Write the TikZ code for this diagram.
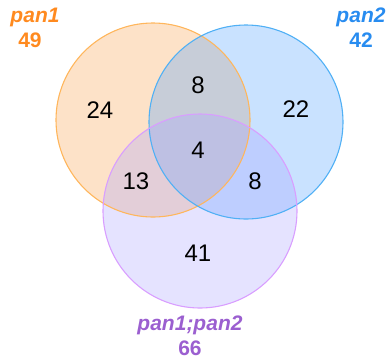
\documentclass[tikz,border=0pt]{standalone}
\usepackage{fontspec}
\setmainfont{Liberation Sans}
\definecolor{orA}{RGB}{248,158,72}
\definecolor{orE}{RGB}{255,182,92}
\definecolor{orT}{RGB}{255,138,31}
\definecolor{blA}{RGB}{75,158,255}
\definecolor{blE}{RGB}{80,176,245}
\definecolor{blT}{RGB}{40,140,240}
\definecolor{puA}{RGB}{168,162,255}
\definecolor{puE}{RGB}{217,158,255}
\definecolor{puT}{RGB}{155,95,208}
\tikzset{
  setfill/.style={fill=#1, fill opacity=0.3},
  setedge/.style={draw=#1, line width=1.1pt},
  count/.style={font=\fontsize{24}{24}\selectfont, text=black, inner sep=0pt},
  setname/.style={font=\fontsize{21}{21}\selectfont\bfseries\itshape, text=#1, inner sep=0pt},
  setsize/.style={font=\fontsize{21}{21}\selectfont\bfseries, text=#1, inner sep=0pt}
}
\begin{document}
\begin{tikzpicture}[x=1pt, y=-1pt]
  \useasboundingbox (0,0) rectangle (391,360);
  % set circles
  \coordinate (cA) at (153,120);
  \coordinate (cB) at (246,122);
  \coordinate (cC) at (200,211);
  \fill[setfill=orA] (cA) circle (97);
  \fill[setfill=blA] (cB) circle (97);
  \fill[setfill=puA] (cC) circle (97);
  \draw[setedge=orE] (cA) circle (97);
  \draw[setedge=blE] (cB) circle (97);
  \draw[setedge=puE] (cC) circle (97);
  % region counts
  \node[count] (nA)   at (100,110) {24};
  \node[count] (nAB)  at (198,85)  {8};
  \node[count] (nB)   at (296,109) {22};
  \node[count] (nABC) at (198,150) {4};
  \node[count] (nAC)  at (136,181) {13};
  \node[count] (nBC)  at (255,181) {8};
  \node[count] (nC)   at (198,253) {41};
  % set labels
  \node[setname=orT] (lA)  at (35,17)  {pan1};
  \node[setsize=orT] (sA)  at (30,40)  {49};
  \node[setname=blT] (lB)  at (361,17) {pan2};
  \node[setsize=blT] (sB)  at (361,40) {42};
  \node[setname=puT] (lC)  at (190,325) {pan1;pan2};
  \node[setsize=puT] (sC)  at (190,348) {66};
\end{tikzpicture}
\end{document}
